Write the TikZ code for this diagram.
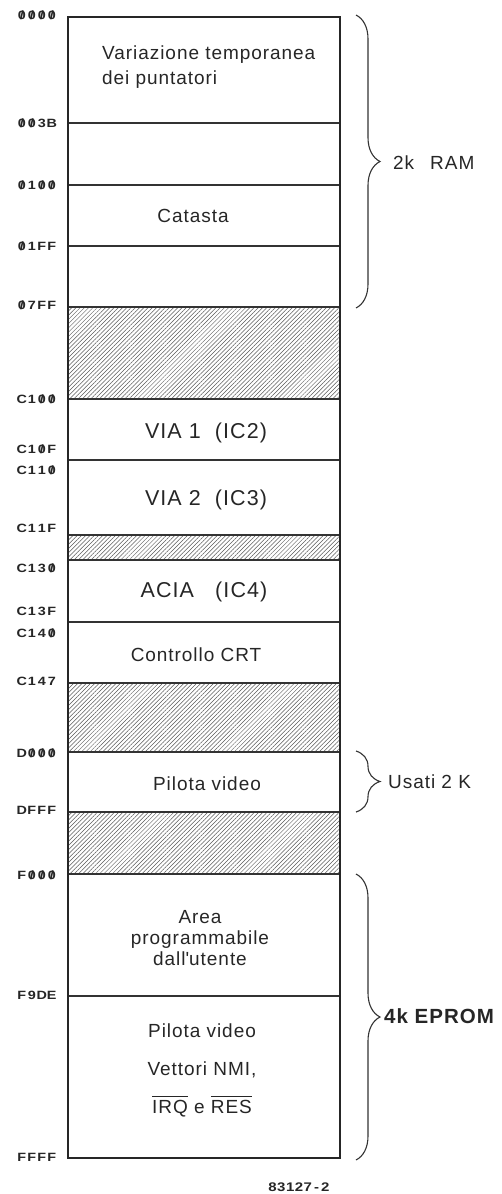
\documentclass[tikz,border=0pt]{standalone}
\usepackage{fontspec}
\setmainfont{Liberation Sans}[LetterSpace=5]
\newfontfamily\addrfont{Liberation Sans}[FakeStretch=1.2]
\usetikzlibrary{patterns.meta,decorations.pathreplacing}
\newcommand\szero{\ooalign{0\cr\hidewidth/\hidewidth\cr}}
\newcommand\ovl[1]{\vbox{\hrule height .8pt\kern 3pt\hbox{#1}}}
\def\addrloop#1{\ifx#1\relax\else\makebox[\addrwd]{#1}\expandafter\addrloop\fi}
\newcommand\addr[2][10pt]{\def\addrwd{#1}\addrloop#2\relax}

\begin{document}
\begin{tikzpicture}[x=1pt,y=-1pt,
  sep/.style={line width=1.1pt,black!80},
  hatch/.style={pattern={Lines[angle=45,distance=3pt,line width=.5pt]},pattern color=black!65},
  txt/.style={inner sep=0pt,text=black!85,font=\fontsize{19}{25}\selectfont},
  big/.style={txt,font=\fontsize{21.5}{25}\selectfont},
  addrlbl/.style={anchor=east,inner sep=0pt,text=black!85,font=\addrfont\bfseries\fontsize{12}{13}\selectfont},
  curly/.style={decorate,decoration={brace,amplitude=24pt},line width=1.1pt,black!80}]
  \useasboundingbox (0,0) rectangle (502,1194);
  \foreach \ya/\yb in {307/399,535/560,683/752,812/874}
    \fill[hatch] (68,\ya) rectangle (340,\yb);
  \foreach \y in {123,185,246,307,399,460,535,560,622,683,752,812,874,996}
    \draw[sep] (68,\y) -- (340,\y);
  \draw[line width=1.8pt,black!85] (68,17) rectangle (340,1158);

  \node[addrlbl] (a0000) at (57,15) {\addr{\szero\szero\szero\szero}};
  \node[addrlbl] (a003B) at (57,123) {\addr{\szero\szero3B}};
  \node[addrlbl] (a0100) at (57,185) {\addr{\szero1\szero\szero}};
  \node[addrlbl] (a01FF) at (57,246) {\addr{\szero1FF}};
  \node[addrlbl] (a07FF) at (57,305) {\addr{\szero7FF}};
  \node[addrlbl] (aC100) at (57,399) {\addr{C1\szero\szero}};
  \node[addrlbl] (aC10F) at (57,449) {\addr{C1\szero F}};
  \node[addrlbl] (aC110) at (57,470) {\addr{C11\szero}};
  \node[addrlbl] (aC11F) at (57,528) {\addr{C11F}};
  \node[addrlbl] (aC130) at (57,568) {\addr{C13\szero}};
  \node[addrlbl] (aC13F) at (57,611) {\addr{C13F}};
  \node[addrlbl] (aC140) at (57,633) {\addr{C14\szero}};
  \node[addrlbl] (aC147) at (57,681) {\addr{C147}};
  \node[addrlbl] (aD000) at (57,753) {\addr{D\szero\szero\szero}};
  \node[addrlbl] (aDFFF) at (57,810) {\addr{DFFF}};
  \node[addrlbl] (aF000) at (57,875) {\addr{F\szero\szero\szero}};
  \node[addrlbl] (aF9DE) at (57,995) {\addr{F9DE}};
  \node[addrlbl] (aFFFF) at (57,1157) {\addr{FFFF}};

  \node[txt,anchor=west,align=left] (ptrs) at (102,67) {Variazione temporanea\\dei puntatori};
  \node[txt] (stack) at (193,216) {Catasta};
  \node[big] (via1) at (206,433) {VIA 1\ \ (IC2)};
  \node[big] (via2) at (206,500) {VIA 2\ \ (IC3)};
  \node[big] (acia) at (204,592) {ACIA\ \ \ (IC4)};
  \node[txt] (crt) at (196,655) {Controllo CRT};
  \node[txt] (video) at (207,784) {Pilota video};
  \node[txt,align=center,font=\fontsize{19}{21}\selectfont] (user) at (200,938) {Area\\programmabile\\dall\textquotesingle utente};
  \node[txt,align=center,font=\fontsize{19}{38}\selectfont] (vect) at (202,1070) {Pilota video\\Vettori NMI,\\\ovl{IRQ} e \ovl{RES}};

  \coordinate (ramtop) at (356,15);
  \coordinate (rambot) at (356,308);
  \draw[curly] (ramtop) -- (rambot);
  \node[txt,anchor=west] (ram) at (393,163) {2k\hspace{16pt}RAM};
  \coordinate (vidtop) at (356,751);
  \coordinate (vidbot) at (356,812);
  \draw[curly] (vidtop) -- (vidbot);
  \node[txt,anchor=west] (used) at (388,782) {Usati 2 K};
  \coordinate (romtop) at (356,874);
  \coordinate (rombot) at (356,1160);
  \draw[curly] (romtop) -- (rombot);
  \node[txt,anchor=west,font=\bfseries\fontsize{20.5}{22}\selectfont] (rom) at (384,1016) {4k EPROM};
  \node[addrlbl,anchor=center,font=\addrfont\bfseries\fontsize{12.5}{14}\selectfont] (fig) at (299,1187) {\addr[8.8pt]{83127-2}};
\end{tikzpicture}
\end{document}
